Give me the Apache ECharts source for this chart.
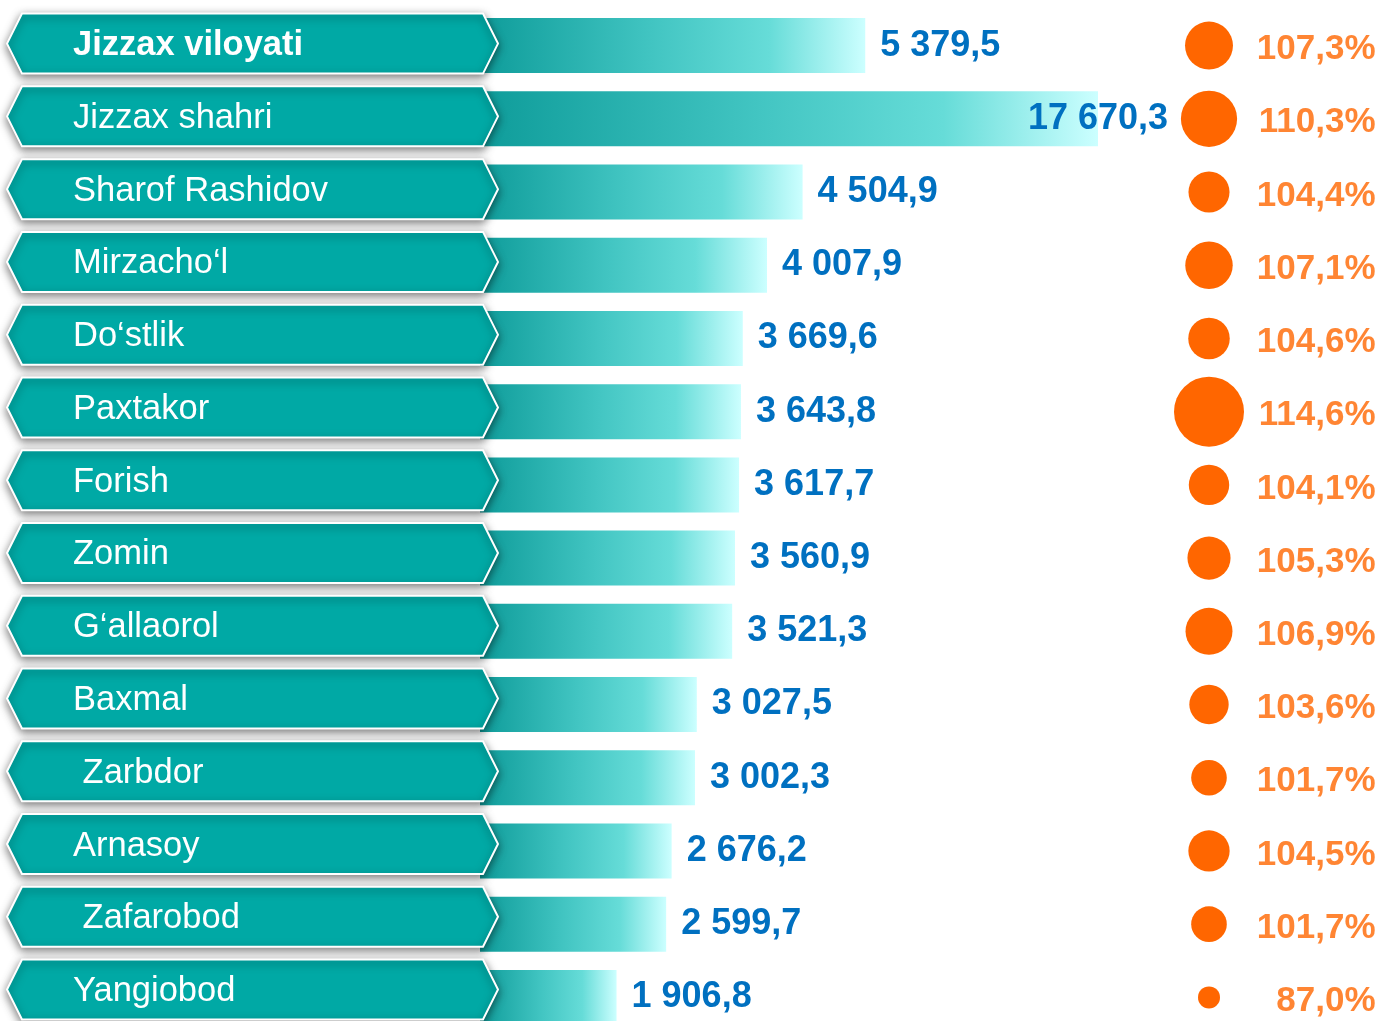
<!DOCTYPE html>
<html>
<head>
<meta charset="utf-8">
<script src="https://cdn.jsdelivr.net/npm/echarts@6/dist/echarts.min.js"></script>
<style>
  html, body { margin: 0; padding: 0; background: #fff; }
  #chart { width: 1378px; height: 1021px; }
</style>
</head>
<body>
<div id="chart"></div>
<script>
const districts = [
  'Jizzax viloyati', 'Jizzax shahri', 'Sharof Rashidov', 'Mirzacho‘l', 'Do‘stlik',
  'Paxtakor', 'Forish', 'Zomin', 'G‘allaorol', 'Baxmal',
  ' Zarbdor', 'Arnasoy', ' Zafarobod', 'Yangiobod'
]
const volumes = [
  5379.5, 17670.3, 4504.9, 4007.9, 3669.6,
  3643.8, 3617.7, 3560.9, 3521.3, 3027.5,
  3002.3, 2676.2, 2599.7, 1906.8
]
const growth = [
  107.3, 110.3, 104.4, 107.1, 104.6,
  114.6, 104.1, 105.3, 106.9, 103.6,
  101.7, 104.5, 101.7, 87.0
]

const font = '"Liberation Sans", Arial, sans-serif'
const teal = '#00A9A5'
const blue = '#0070C0'
const orange = '#FF6600'
const barMax = 8630
const gridTop = 9
const gridHeight = 1025

function fmtNum(v) {
  const [int, dec] = v.toFixed(1).split('.')
  return int.replace(/\B(?=(\d{3})+(?!\d))/g, ' ') + ',' + dec
}

function fmtPct(p) {
  return p.toFixed(1).replace('.', ',') + '%'
}

const gMin = Math.min(...growth)
const gMax = Math.max(...growth)
function bubbleSize(p) {
  const t = (p - gMin) / (gMax - gMin)
  return 22 + 48 * t * t
}

const chart = echarts.init(document.getElementById('chart'), null, { renderer: 'canvas' })

chart.setOption({
  backgroundColor: '#fff',
  animation: false,
  grid: [
    { left: 480, width: 618, top: gridTop, height: gridHeight, outerBoundsMode: 'none' },
    { left: 1209, right: 2, top: gridTop, height: gridHeight, outerBoundsMode: 'none' }
  ],
  xAxis: [
    { gridIndex: 0, type: 'value', min: 0, max: barMax, show: false },
    { gridIndex: 1, type: 'value', min: 0, max: 1, show: false }
  ],
  yAxis: [
    { gridIndex: 0, type: 'category', inverse: true, data: districts, show: false },
    { gridIndex: 1, type: 'category', inverse: true, data: districts, show: false }
  ],
  series: [
    {
      type: 'bar',
      xAxisIndex: 0,
      yAxisIndex: 0,
      barWidth: 55,
      z: 2,
      data: volumes.map((v) =>
        v > barMax ? { value: v, label: { offset: [-85, 0] } } : v
      ),
      itemStyle: {
        color: new echarts.graphic.LinearGradient(0, 0, 1, 0, [
          { offset: 0, color: '#0E9C9A' },
          { offset: 0.45, color: '#42C5C2' },
          { offset: 0.75, color: '#66DCD8' },
          { offset: 1, color: '#CCFFFF' }
        ])
      },
      label: {
        show: true,
        position: 'right',
        distance: 15,
        color: blue,
        fontFamily: font,
        fontWeight: 'bold',
        fontSize: 36,
        formatter: (p) => fmtNum(p.value)
      }
    },
    {
      type: 'custom',
      xAxisIndex: 0,
      yAxisIndex: 0,
      z: 3,
      data: districts.map((d, i) => [0, i]),
      renderItem: (params, api) => {
        // banners drift slightly upward relative to the bars further down
        const c = api.coord([0, api.value(1)])[1] - 2 - params.dataIndex * 0.45
        const h = 30
        return {
          type: 'group',
          children: [
            {
              type: 'polygon',
              shape: {
                points: [[7, c], [22, c - h], [483, c - h], [498, c], [483, c + h], [22, c + h]]
              },
              style: {
                fill: teal,
                stroke: '#fff',
                lineWidth: 2,
                shadowBlur: 9,
                shadowColor: 'rgba(0, 0, 0, 0.5)',
                shadowOffsetY: 3
              }
            },
            {
              type: 'text',
              style: {
                text: districts[params.dataIndex],
                x: 73,
                y: c + 2,
                verticalAlign: 'middle',
                fill: '#fff',
                fontFamily: font,
                fontSize: 34.5,
                fontWeight: params.dataIndex === 0 ? 'bold' : 'normal'
              }
            }
          ]
        }
      }
    },
    {
      type: 'scatter',
      xAxisIndex: 1,
      yAxisIndex: 1,
      data: growth.map((p, i) => [0, i, p]),
      symbolSize: (val) => bubbleSize(val[2]),
      itemStyle: { color: orange, opacity: 1 }
    },
    {
      type: 'scatter',
      xAxisIndex: 1,
      yAxisIndex: 1,
      data: growth.map((p, i) => [1, i, p]),
      symbolSize: 1,
      itemStyle: { color: 'rgba(0,0,0,0)' },
      label: {
        show: true,
        position: 'left',
        distance: 0,
        offset: [0, 4],
        color: orange,
        fontFamily: font,
        fontWeight: 'bold',
        fontSize: 35,
        formatter: (p) => fmtPct(p.value[2])
      }
    }
  ]
})
</script>
</body>
</html>
